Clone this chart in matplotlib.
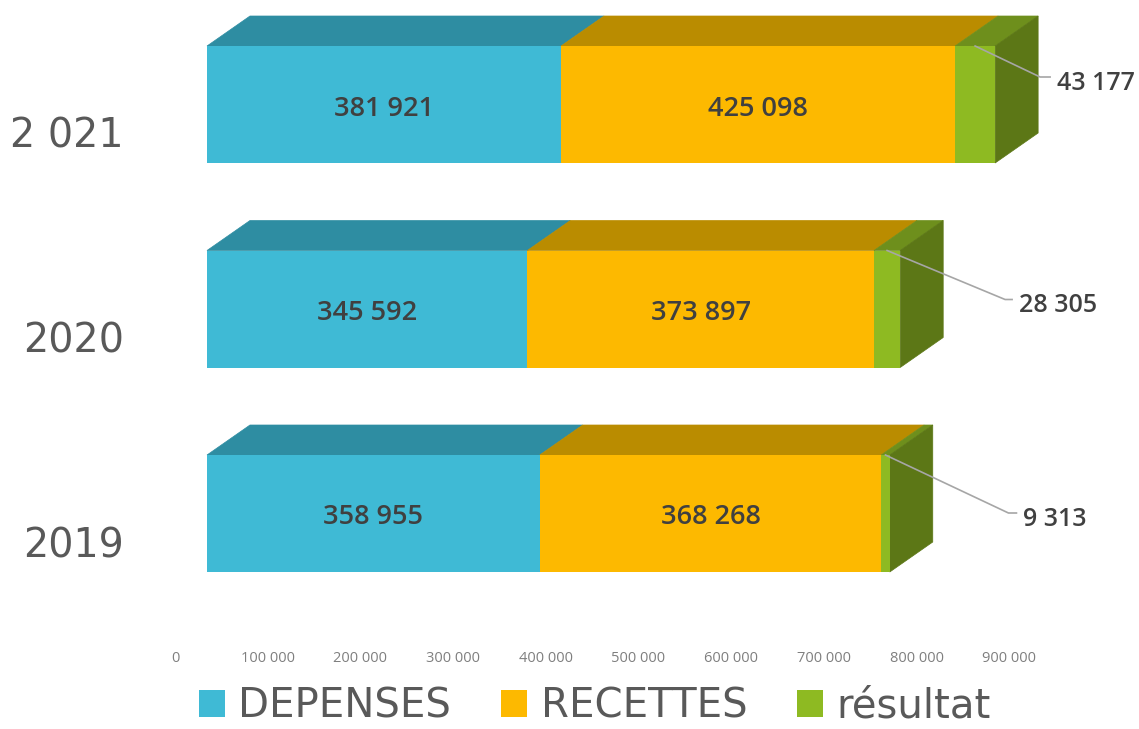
import matplotlib
matplotlib.use('Agg')
import matplotlib.pyplot as plt
from matplotlib.patches import Patch
from matplotlib.transforms import ScaledTranslation

years = ['2019', '2020', '2 021']
depenses = [358955, 345592, 381921]
recettes = [368268, 373897, 425098]
resultat = [9313, 28305, 43177]
series_names = ['DEPENSES', 'RECETTES', 'résultat']
x_ticks = [0, 100000, 200000, 300000, 400000, 500000, 600000, 700000, 800000, 900000]

front_colors = ['#3FBAD5', '#FDB900', '#8EBA22']
top_colors = ['#2E8DA2', '#BA8C00', '#6E8F1C']
side_color = '#5C7716'
text_color = '#595959'
value_color = '#404040'

W, H = 1139, 729
PX_X = 0.000927      # pixels per unit of value
PX_Y = 204.5         # pixels between two bars
X0, Y0 = 207, 513.5  # pixel position of value 0 and of the 2019 bar
AXIS_Y = 650


def fmt(v):
    return f'{v:,}'.replace(',', ' ')


fig = plt.figure(figsize=(W / 100, H / 100), dpi=100)
plt.rcParams['font.family'] = ['Open Sans', 'DejaVu Sans']
ax = fig.add_axes([0, (H - AXIS_Y) / H, 1, AXIS_Y / H])
ax.set_xlim(-X0 / PX_X, (W - X0) / PX_X)
ax.set_ylim(-(AXIS_Y - Y0) / PX_Y, Y0 / PX_Y)

bar_h = 117 / PX_Y
depth_x = 43 / PX_X
depth_y = 30 / PX_Y

# leader line of the small labels: (dx to elbow, dy to elbow, dx to end) in pixels
leaders = [(123, 58, 131), (118, 49, 125), (65, 31, 75)]

for i, year in enumerate(years):
    left = 0
    top = i + bar_h / 2
    bottom = i - bar_h / 2
    segments = [depenses[i], recettes[i], resultat[i]]
    for j, value in enumerate(segments):
        right = left + value
        ax.fill([left, right, right + depth_x, left + depth_x],
                [top, top, top + depth_y, top + depth_y],
                color=top_colors[j], lw=0.5, zorder=2)
        ax.barh(i, value, left=left, height=bar_h, color=front_colors[j], lw=0, zorder=3)
        if j < 2:
            ax.text(left + value / 2, i - 4 / PX_Y, fmt(value), ha='center', va='center',
                    fontsize=19.5, fontweight='semibold', color=value_color, zorder=5)
        left = right
    # right hand side of the stack
    ax.fill([left, left + depth_x, left + depth_x, left],
            [top, top + depth_y, bottom + depth_y, bottom],
            color=side_color, lw=0.5, zorder=2)

    mid = left - resultat[i] / 2
    dx1, dy1, dx2 = leaders[i]
    ax.plot([mid, mid + dx1 / PX_X, mid + dx2 / PX_X],
            [top, top - dy1 / PX_Y, top - dy1 / PX_Y],
            color='#A6A6A6', lw=1.2, zorder=4)
    ax.text(mid + (dx2 + 7) / PX_X, top - (dy1 + 6) / PX_Y, fmt(resultat[i]),
            ha='left', va='center', fontsize=18, fontweight='semibold', color=value_color, zorder=5)

ax.set_xticks(x_ticks)
ax.set_xticklabels([fmt(t) for t in x_ticks], fontsize=10.5, color='#7F7F7F')
ax.set_yticks(range(len(years)))
ax.set_yticklabels(years, fontsize=28.5, color=text_color, family='DejaVu Sans')
ax.tick_params(length=0, pad=0)

# the 3D view moves the axis labels away from the front of the bars
for label in ax.get_xticklabels():
    label.set_transform(label.get_transform() + ScaledTranslation(-32 / 100, -1 / 100, fig.dpi_scale_trans))
for label in ax.get_yticklabels():
    label.set_transform(label.get_transform() + ScaledTranslation(124 / 100, -28 / 100, fig.dpi_scale_trans))

for spine in ax.spines.values():
    spine.set_visible(False)

handles = [Patch(color=c, lw=0) for c in front_colors]
fig.legend(handles, series_names, loc='center', bbox_to_anchor=(595 / W, 1 - 707 / H), ncol=3,
           frameon=False, prop={'family': 'DejaVu Sans', 'size': 29}, labelcolor=text_color,
           handlelength=0.645, handleheight=0.645, handletextpad=0.33, columnspacing=1.24,
           borderpad=0, borderaxespad=0)

fig.savefig('out.png', dpi=100)
